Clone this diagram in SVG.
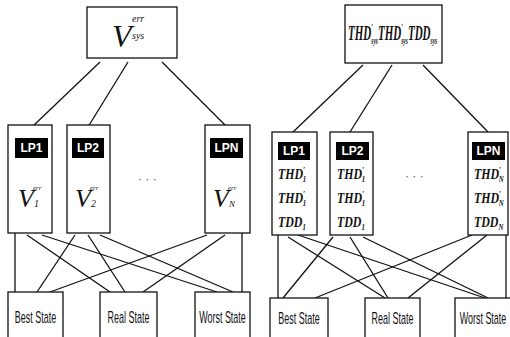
<svg xmlns="http://www.w3.org/2000/svg" width="510" height="337" viewBox="0 0 510 337">
<style>
.box{fill:#fff;stroke:#111;stroke-width:1.3}
.lbl{fill:#000}
.lt{fill:#fff;font-family:"Liberation Sans",Arial,sans-serif;font-size:12px;font-weight:bold;text-anchor:middle}
.it{font-family:"Liberation Serif","Times New Roman",serif;font-style:italic;fill:#111}
.itb{font-family:"Liberation Serif","Times New Roman",serif;font-style:italic;font-weight:bold;fill:#111}
.st{font-family:"Liberation Sans",Arial,sans-serif;font-size:16px;fill:#111;text-anchor:middle}
.cn line{stroke:#111;stroke-width:1.3}
.dots{font-family:"Liberation Sans",Arial,sans-serif;font-size:12px;fill:#555}
</style>
<rect width="510" height="337" fill="#fff"/>
<g id="connectors" class="cn">
<line x1="100" y1="62" x2="32" y2="127"/>
<line x1="128" y1="62" x2="88" y2="127"/>
<line x1="162" y1="62" x2="227" y2="127"/>
<line x1="363" y1="65" x2="293" y2="132"/>
<line x1="392" y1="65" x2="350" y2="132"/>
<line x1="423" y1="65" x2="488" y2="132"/>
<line x1="15" y1="233" x2="15" y2="292"/>
<line x1="27" y1="235" x2="110" y2="292"/>
<line x1="42" y1="235" x2="217" y2="292"/>
<line x1="75" y1="235" x2="37" y2="292"/>
<line x1="88" y1="235" x2="125" y2="292"/>
<line x1="100" y1="235" x2="233" y2="292"/>
<line x1="207" y1="235" x2="50" y2="292"/>
<line x1="225" y1="235" x2="143" y2="292"/>
<line x1="242" y1="233" x2="242" y2="292"/>
<line x1="278" y1="235" x2="278" y2="298"/>
<line x1="288" y1="237" x2="385" y2="298"/>
<line x1="298" y1="235" x2="485" y2="298"/>
<line x1="333" y1="237" x2="283" y2="298"/>
<line x1="350" y1="237" x2="388" y2="298"/>
<line x1="363" y1="237" x2="488" y2="298"/>
<line x1="472" y1="235" x2="315" y2="298"/>
<line x1="487" y1="235" x2="408" y2="298"/>
<line x1="506" y1="235" x2="506" y2="298"/>
</g>
<g id="top-left">
<rect class="box" x="87" y="7" width="90" height="51"/>
<text class="it" x="112" y="47" font-size="32">V</text>
<text class="it" x="132" y="22" font-size="10">err</text>
<text class="it" x="132" y="39" font-size="10">sys</text>
</g>
<g id="lp1-left">
<rect class="box" x="8" y="125" width="44" height="108"/>
<rect class="lbl" x="15" y="138" width="33" height="20"/>
<text class="lt" x="31.5" y="152">LP1</text>
<text class="it" x="18" y="207" font-size="26">V</text>
<text class="it" x="33" y="190" font-size="7">err</text>
<text class="it" x="34" y="207" font-size="10">1</text>
</g>
<g id="lp2-left">
<rect class="box" x="67" y="125" width="43" height="108"/>
<rect class="lbl" x="72" y="138" width="32" height="20"/>
<text class="lt" x="88" y="152">LP2</text>
<text class="it" x="75" y="207" font-size="26">V</text>
<text class="it" x="90" y="190" font-size="7">err</text>
<text class="it" x="91" y="207" font-size="10">2</text>
</g>
<g id="lpn-left">
<rect class="box" x="205" y="125" width="45" height="108"/>
<rect class="lbl" x="210" y="138" width="33" height="20"/>
<text class="lt" x="226.5" y="152">LPN</text>
<text class="it" x="213" y="207" font-size="26">V</text>
<text class="it" x="228" y="190" font-size="7">err</text>
<text class="it" x="229" y="207" font-size="9">N</text>
</g>
<text class="dots" x="138" y="183">·   ·   ·</text>
<g id="best-left">
<rect class="box" x="8" y="292" width="55" height="50"/>
<text class="st" x="35.5" y="323" transform="translate(35.5,0) scale(0.56,1) translate(-35.5,0)">Best State</text>
</g>
<g id="real-left">
<rect class="box" x="100" y="292" width="57" height="50"/>
<text class="st" x="128.5" y="323" transform="translate(128.5,0) scale(0.56,1) translate(-128.5,0)">Real State</text>
</g>
<g id="worst-left">
<rect class="box" x="195" y="292" width="55" height="50"/>
<text class="st" x="222.5" y="323" transform="translate(222.5,0) scale(0.56,1) translate(-222.5,0)">Worst State</text>
</g>
<g id="top-right">
<rect class="box" x="345" y="5" width="97" height="58"/>
<g transform="translate(348,40) scale(0.55,1)">
<text class="itb" x="0" y="0" font-size="20">THD<tspan font-size="11" dy="-9">′</tspan><tspan font-size="10" dx="-3" dy="13">sys</tspan><tspan dy="-4">THD</tspan><tspan font-size="11" dy="-9">′</tspan><tspan font-size="10" dx="-3" dy="13">sys</tspan><tspan dy="-4">TDD</tspan><tspan font-size="10" dy="4">sys</tspan></text>
</g>
</g>
<g id="lp1-right">
<rect class="box" x="272" y="132" width="45" height="103"/>
<rect class="lbl" x="278" y="142" width="32" height="18"/>
<text class="lt" x="294" y="155">LP1</text>
<g transform="translate(278,0) scale(0.85,1)">
<text class="itb" x="0" y="179" font-size="14">THD<tspan font-size="9" dy="-6">′</tspan><tspan font-size="8" dx="-3" dy="9">1</tspan></text>
<text class="itb" x="0" y="203" font-size="14">THD<tspan font-size="9" dy="-6">′</tspan><tspan font-size="8" dx="-3" dy="9">1</tspan></text>
<text class="itb" x="0" y="227" font-size="14">TDD<tspan font-size="8" dy="3">1</tspan></text>
</g>
</g>
<g id="lp2-right">
<rect class="box" x="330" y="132" width="43" height="103"/>
<rect class="lbl" x="336" y="142" width="33" height="18"/>
<text class="lt" x="352.5" y="155">LP2</text>
<g transform="translate(337,0) scale(0.85,1)">
<text class="itb" x="0" y="179" font-size="14">THD<tspan font-size="9" dy="-6">′</tspan><tspan font-size="8" dx="-3" dy="9">1</tspan></text>
<text class="itb" x="0" y="203" font-size="14">THD<tspan font-size="9" dy="-6">′</tspan><tspan font-size="8" dx="-3" dy="9">1</tspan></text>
<text class="itb" x="0" y="227" font-size="14">TDD<tspan font-size="8" dy="3">1</tspan></text>
</g>
</g>
<g id="lpn-right">
<rect class="box" x="468" y="132" width="40" height="103"/>
<rect class="lbl" x="472" y="142" width="33" height="18"/>
<text class="lt" x="488.5" y="155">LPN</text>
<g transform="translate(474,0) scale(0.85,1)">
<text class="itb" x="0" y="179" font-size="14">THD<tspan font-size="9" dy="-6">′</tspan><tspan font-size="8" dx="-3" dy="9">N</tspan></text>
<text class="itb" x="0" y="203" font-size="14">THD<tspan font-size="9" dy="-6">′</tspan><tspan font-size="8" dx="-3" dy="9">N</tspan></text>
<text class="itb" x="0" y="227" font-size="14">TDD<tspan font-size="8" dy="3">N</tspan></text>
</g>
</g>
<text class="dots" x="405" y="180">·   ·   ·</text>
<g id="best-right">
<rect class="box" x="270" y="298" width="58" height="45"/>
<text class="st" x="299" y="324" transform="translate(299,0) scale(0.56,1) translate(-299,0)">Best State</text>
</g>
<g id="real-right">
<rect class="box" x="365" y="298" width="55" height="45"/>
<text class="st" x="392.5" y="324" transform="translate(392.5,0) scale(0.56,1) translate(-392.5,0)">Real State</text>
</g>
<g id="worst-right">
<rect class="box" x="455" y="298" width="58" height="45"/>
<text class="st" x="483" y="324" transform="translate(483,0) scale(0.56,1) translate(-483,0)">Worst State</text>
</g>
</svg>
